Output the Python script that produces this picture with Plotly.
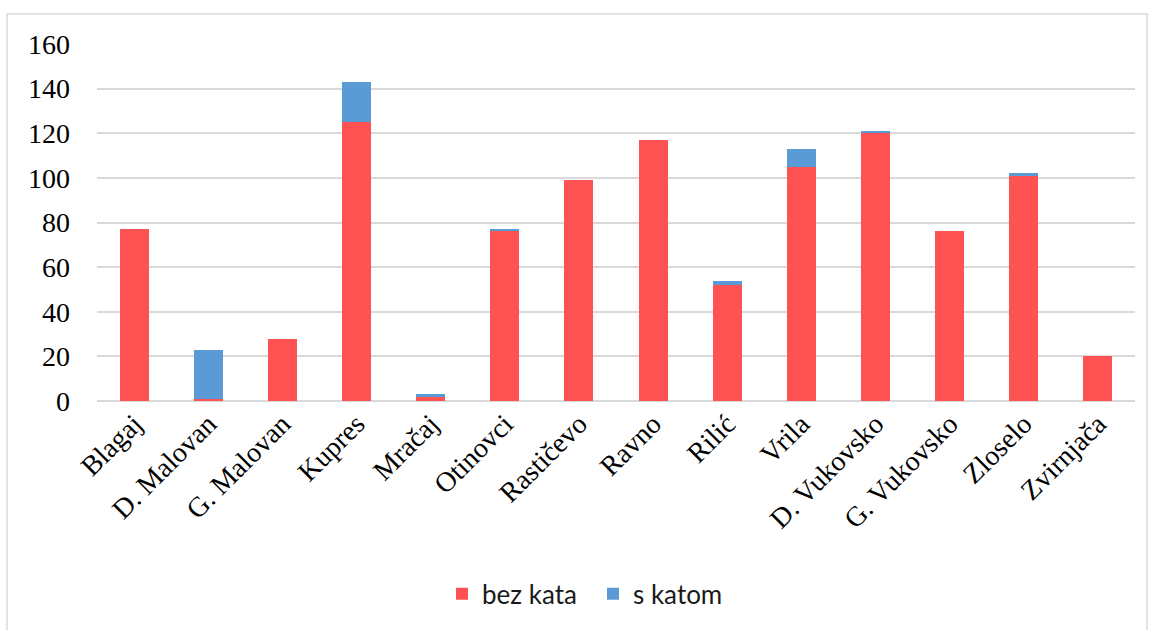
import plotly.graph_objects as go

sela = ["Blagaj", "D. Malovan", "G. Malovan", "Kupres", "Mračaj", "Otinovci",
        "Rastičevo", "Ravno", "Rilić", "Vrila", "D. Vukovsko", "G. Vukovsko",
        "Zloselo", "Zvirnjača"]
bez_kata = [77, 1, 28, 125, 2, 76, 99, 117, 52, 105, 120, 76, 101, 20]
s_katom = [0, 22, 0, 18, 1, 1, 0, 0, 2, 8, 1, 0, 1, 0]
y_ticks = [0, 20, 40, 60, 80, 100, 120, 140, 160]

serif = dict(family="Liberation Serif", size=28, color="black")

fig = go.Figure()
fig.add_trace(go.Bar(x=sela, y=bez_kata, name="bez kata",
                     marker=dict(color="#FF5353", line=dict(width=0))))
fig.add_trace(go.Bar(x=sela, y=s_katom, name="s katom",
                     marker=dict(color="#5B9BD5", line=dict(width=0))))

fig.update_layout(
    barmode="stack",
    bargap=0.61,
    width=1150, height=630,
    margin=dict(l=97, r=15, t=44, b=229),
    paper_bgcolor="white", plot_bgcolor="white",
    showlegend=True,
    legend=dict(orientation="h", traceorder="normal",
                x=(442 - 97) / 1038, xanchor="left", y=-0.54, yanchor="middle",
                font=dict(family="Lato", size=26, color="#1a1a1a"),
                itemwidth=30, entrywidth=106, entrywidthmode="pixels", tracegroupgap=0),
    xaxis=dict(tickangle=-45, tickfont=serif,
               showgrid=False, showline=False, ticks=""),
    yaxis=dict(range=[0, 160], tickvals=y_ticks, showgrid=True, gridcolor="#d9d9d9",
               gridwidth=1.5, zeroline=True, zerolinecolor="#d9d9d9", zerolinewidth=1.5,
               tickfont=serif, ticks="", ticklabelstandoff=26),
    shapes=[dict(type="rect", xref="paper", yref="paper",
                 x0=(7 - 97) / 1038, x1=(1147 - 97) / 1038,
                 y0=(401 - 640) / 357, y1=(401 - 14) / 357,
                 line=dict(color="#d9d9d9", width=1.5), fillcolor="rgba(0,0,0,0)",
                 layer="below")],
)

fig.write_html("out.html")
